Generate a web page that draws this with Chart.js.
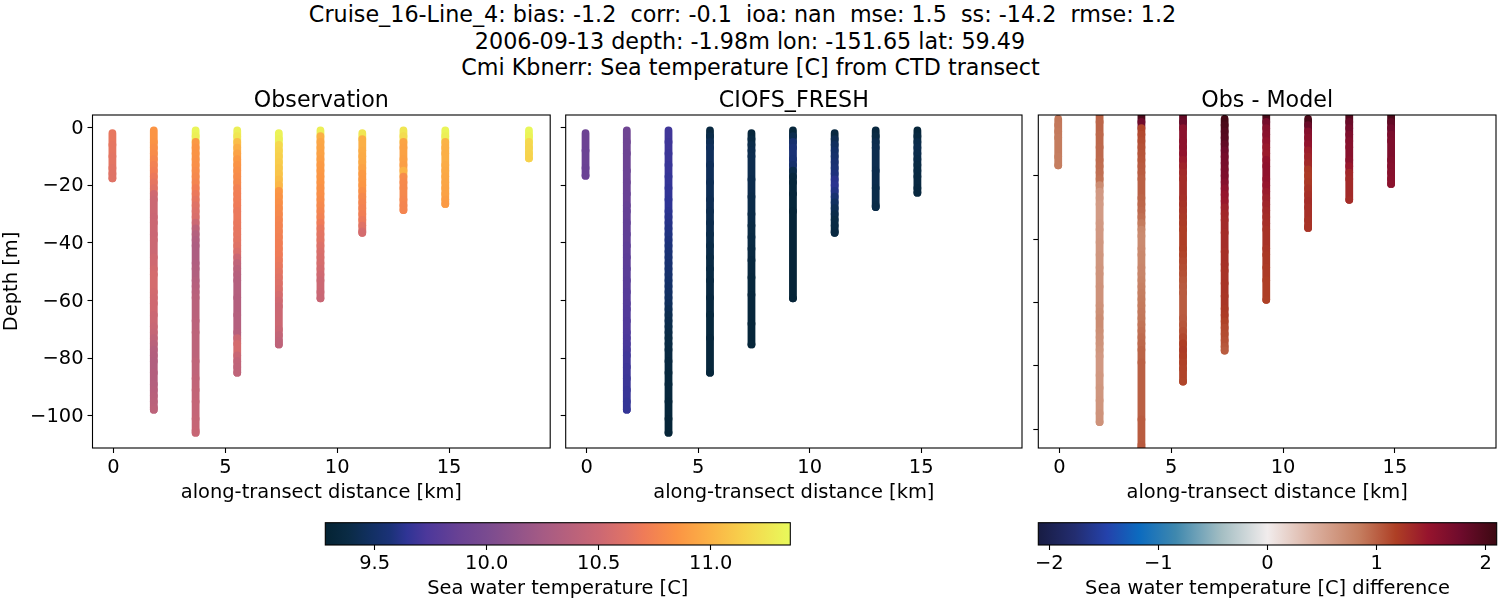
<!DOCTYPE html>
<html>
<head>
<meta charset="utf-8">
<title>Cruise_16-Line_4</title>
<script src="https://cdn.jsdelivr.net/npm/chart.js@4"></script>
<style>
body { margin: 0; background: #fff; width: 1500px; height: 600px; overflow: hidden; position: relative; }
canvas { position: absolute; }
.sup { position: absolute; transform: translateX(-50%); white-space: pre; font: 22.25px "DejaVu Sans"; color: #000; line-height: 26px; }
</style>
</head>
<body>
<div class="sup" style="left:742.5px;top:1px">Cruise_16-Line_4: bias: -1.2  corr: -0.1  ioa: nan  mse: 1.5  ss: -14.2  rmse: 1.2</div>
<div class="sup" style="left:750px;top:28px">2006-09-13 depth: -1.98m lon: -151.65 lat: 59.49</div>
<div class="sup" style="left:750.5px;top:54px">Cmi Kbnerr: Sea temperature [C] from CTD transect</div>
<canvas id="obsChart" width="560" height="422" style="left:0;top:88px"></canvas>
<canvas id="modelChart" width="470" height="422" style="left:556px;top:88px"></canvas>
<canvas id="diffChart" width="472" height="422" style="left:1028px;top:88px"></canvas>
<canvas id="tempBar" width="500" height="91" style="left:300px;top:510px"></canvas>
<canvas id="diffBar" width="490" height="91" style="left:1010px;top:510px"></canvas>
<script>
// distance of each cast along the transect [km]
const castKm = [-0.05, 1.8, 3.67, 5.53, 7.39, 9.25, 11.12, 12.96, 14.83, 18.57];

// sample depths of each cast [m]
const depth1 = [-2,-4,-6,-8,-10,-12,-14,-16,-17.6];
const depth2 = [-1,-3,-5,-7,-9,-11,-13,-15,-17,-19,-21,-23,-25,-27,-29,-31,-33,-35,-37,-39,-41,-43,-45,-47,-49,-51,-53,-55,-57,-59,-61,-63,-65,-67,-69,-71,-73,-75,-77,-79,-81,-83,-85,-87,-89,-91,-93,-95,-97,-97.8];
const depth3 = [-1,-3,-5,-7,-9,-11,-13,-15,-17,-19,-21,-23,-25,-27,-29,-31,-33,-35,-37,-39,-41,-43,-45,-47,-49,-51,-53,-55,-57,-59,-61,-63,-65,-67,-69,-71,-73,-75,-77,-79,-81,-83,-85,-87,-89,-91,-93,-95,-97,-99,-101,-103,-105,-105.8];
const depth4 = [-1,-3,-5,-7,-9,-11,-13,-15,-17,-19,-21,-23,-25,-27,-29,-31,-33,-35,-37,-39,-41,-43,-45,-47,-49,-51,-53,-55,-57,-59,-61,-63,-65,-67,-69,-71,-73,-75,-77,-79,-81,-83,-85];
const depth5 = [-2,-4,-6,-8,-10,-12,-14,-16,-18,-20,-22,-24,-26,-28,-30,-32,-34,-36,-38,-40,-42,-44,-46,-48,-50,-52,-54,-56,-58,-60,-62,-64,-66,-68,-70,-72,-74,-75.2];
const depth6 = [-1,-3,-5,-7,-9,-11,-13,-15,-17,-19,-21,-23,-25,-27,-29,-31,-33,-35,-37,-39,-41,-43,-45,-47,-49,-51,-53,-55,-57,-59.2];
const depth7 = [-2,-4,-6,-8,-10,-12,-14,-16,-18,-20,-22,-24,-26,-28,-30,-32,-34,-36,-36.5];
const depth8 = [-1,-3,-5,-7,-9,-11,-13,-15,-17,-19,-21,-23,-25,-27,-28.6];
const depth9 = [-1,-3,-5,-7,-9,-11,-13,-15,-17,-19,-21,-23,-25,-26.5];
const depth10 = [-1,-3,-5,-7,-9,-10.7];
// the model casts stop a little shallower on three stations
const modelDepth1 = [-2,-4,-6,-8,-10,-12,-14,-16,-16.7];
const modelDepth8 = [-1,-3,-5,-7,-9,-11,-13,-15,-17,-19,-21,-23,-25,-27,-27.6];
const modelDepth9 = [-1,-3,-5,-7,-9,-11,-13,-15,-17,-19,-21,-22.6];

// observed temperature [C]
const obs1 = [10.66,10.66,10.65,10.65,10.64,10.64,10.63,10.62,10.62];
const obs2 = [10.85,10.85,10.84,10.82,10.8,10.77,10.74,10.72,10.68,10.65,
  10.62,10.52,10.5,10.5,10.5,10.49,10.5,10.5,10.49,10.5,
  10.5,10.5,10.52,10.52,10.54,10.55,10.55,10.55,10.54,10.53,
  10.52,10.52,10.5,10.5,10.48,10.46,10.42,10.38,10.35,10.34,
  10.33,10.33,10.34,10.34,10.35,10.36,10.37,10.38,10.39,10.4];
const obs3 = [11.33,11.3,10.87,10.85,10.84,10.83,10.82,10.8,10.78,10.76,
  10.72,10.68,10.65,10.62,10.6,10.58,10.5,10.4,10.35,10.32,
  10.3,10.3,10.3,10.32,10.33,10.33,10.35,10.36,10.37,10.38,
  10.38,10.38,10.38,10.39,10.39,10.4,10.4,10.4,10.4,10.4,
  10.42,10.42,10.42,10.43,10.43,10.44,10.44,10.45,10.45,10.45,
  10.46,10.46,10.47,10.47];
const obs4 = [11.3,11.25,11.05,10.98,10.92,10.87,10.84,10.82,10.8,10.78,
  10.74,10.72,10.71,10.7,10.68,10.68,10.67,10.66,10.65,10.64,
  10.62,10.58,10.5,10.42,10.38,10.36,10.35,10.35,10.35,10.34,
  10.34,10.34,10.35,10.35,10.35,10.36,10.5,10.55,10.55,10.48,
  10.43,10.42,10.42];
const obs5 = [11.32,11.3,11.18,11.16,11.14,11.12,11.1,11.08,11.05,11.02,
  10.86,10.84,10.82,10.8,10.78,10.76,10.75,10.74,10.73,10.72,
  10.71,10.7,10.68,10.66,10.64,10.62,10.6,10.58,10.55,10.52,
  10.5,10.5,10.5,10.5,10.48,10.44,10.42,10.41];
const obs6 = [11.3,10.98,10.94,10.93,10.92,10.9,10.88,10.87,10.86,10.85,
  10.83,10.82,10.8,10.78,10.76,10.74,10.7,10.66,10.64,10.63,
  10.6,10.58,10.57,10.56,10.54,10.52,10.5,10.5,10.49,10.48];
const obs7 = [11.25,10.98,10.98,10.97,10.96,10.95,10.92,10.88,10.87,10.86,
  10.82,10.78,10.76,10.74,10.72,10.68,10.62,10.56,10.55];
const obs8 = [11.25,11.2,10.93,10.92,10.92,10.91,10.9,11.0,10.8,10.79,10.78,10.78,10.77,10.76,10.76];
const obs9 = [11.33,11.3,11.0,10.99,10.98,10.98,10.97,10.96,10.95,10.94,10.93,10.92,10.9,10.88];
const obs10 = [11.34,11.32,11.18,11.17,11.16,11.15];

// CIOFS_FRESH temperature [C]
const model1 = [9.9,9.9,9.9,9.89,9.89,9.89,9.88,9.88,9.88];
const model2 = [9.92,9.92,9.91,9.91,9.9,9.9,9.9,9.89,9.89,9.88,
  9.88,9.87,9.87,9.86,9.85,9.85,9.84,9.84,9.83,9.83,
  9.82,9.82,9.81,9.81,9.8,9.8,9.79,9.79,9.78,9.78,
  9.77,9.76,9.76,9.75,9.75,9.74,9.73,9.72,9.71,9.7,
  9.7,9.69,9.69,9.68,9.68,9.67,9.67,9.66,9.66,9.66];
const model3 = [9.7,9.7,9.69,9.69,9.68,9.68,9.67,9.67,9.66,9.66,
  9.65,9.65,9.64,9.64,9.63,9.62,9.61,9.6,9.59,9.58,
  9.57,9.56,9.55,9.54,9.53,9.52,9.51,9.5,9.49,9.48,
  9.46,9.44,9.42,9.41,9.4,9.39,9.38,9.37,9.36,9.36,
  9.35,9.35,9.34,9.34,9.33,9.33,9.33,9.32,9.32,9.32,
  9.31,9.31,9.31,9.31];
const model4 = [9.36,9.4,9.44,9.46,9.46,9.46,9.45,9.45,9.45,9.44,
  9.44,9.44,9.43,9.43,9.42,9.42,9.41,9.41,9.4,9.4,
  9.39,9.39,9.38,9.38,9.37,9.37,9.36,9.36,9.36,9.35,
  9.35,9.35,9.34,9.34,9.34,9.34,9.33,9.33,9.33,9.33,
  9.33,9.33,9.32];
const model5 = [9.33,9.37,9.4,9.41,9.42,9.42,9.42,9.42,9.41,9.41,
  9.41,9.4,9.4,9.4,9.39,9.39,9.38,9.38,9.37,9.37,
  9.36,9.36,9.35,9.35,9.35,9.34,9.34,9.34,9.33,9.33,
  9.33,9.33,9.33,9.32,9.32,9.32,9.32,9.32];
const model6 = [9.33,9.42,9.53,9.56,9.56,9.55,9.52,9.4,9.35,9.33,
  9.33,9.32,9.32,9.32,9.31,9.31,9.31,9.31,9.31,9.31,
  9.31,9.31,9.31,9.31,9.31,9.31,9.31,9.31,9.31,9.31];
const model7 = [9.36,9.43,9.47,9.5,9.52,9.54,9.56,9.58,9.62,9.63,
  9.6,9.54,9.48,9.44,9.4,9.38,9.37,9.36,9.36];
const model8 = [9.35,9.38,9.41,9.42,9.42,9.42,9.42,9.41,9.41,9.41,9.4,9.4,9.4,9.39,9.39];
const model9 = [9.33,9.36,9.4,9.41,9.4,9.39,9.38,9.37,9.36,9.36,9.35,9.35];

// obs - model difference [C]
const diff1 = [0.88,0.87,0.86,0.85,0.85,0.85,0.84,0.84,0.84];
const diff2 = [0.98,0.97,0.97,0.96,0.96,0.95,0.95,0.94,0.93,0.92,
  0.9,0.72,0.62,0.61,0.6,0.6,0.6,0.61,0.62,0.62,
  0.63,0.63,0.64,0.64,0.65,0.66,0.66,0.67,0.67,0.67,
  0.68,0.7,0.72,0.72,0.7,0.68,0.66,0.64,0.62,0.62,
  0.62,0.63,0.63,0.64,0.64,0.65,0.65,0.66,0.66,0.67];
const diff3 = [2.0,1.75,1.15,1.12,1.1,1.08,1.06,1.05,1.03,1.02,
  1.0,1.0,1.0,0.98,0.97,0.95,0.92,0.85,0.76,0.74,
  0.74,0.75,0.76,0.76,0.77,0.78,0.8,0.82,0.84,0.85,
  0.86,0.87,0.88,0.9,0.92,0.94,0.96,0.98,0.98,1.0,
  1.0,1.0,1.0,1.0,1.0,1.0,1.0,1.0,1.02,1.02,
  1.02,1.02,1.03,1.03];
const diff4 = [1.85,1.8,1.55,1.55,1.54,1.53,1.5,1.42,1.36,1.32,
  1.3,1.3,1.3,1.28,1.26,1.24,1.22,1.2,1.18,1.18,
  1.18,1.17,1.15,1.12,1.1,1.08,1.05,1.03,1.02,1.02,
  1.02,1.02,1.03,1.05,1.08,1.12,1.18,1.2,1.18,1.16,
  1.15,1.15,1.14];
const diff5 = [2.05,2.0,1.95,1.92,1.85,1.78,1.72,1.7,1.68,1.66,
  1.6,1.52,1.48,1.45,1.38,1.34,1.32,1.32,1.3,1.3,
  1.3,1.28,1.28,1.27,1.26,1.26,1.25,1.25,1.24,1.24,
  1.22,1.2,1.16,1.12,1.1,1.08,1.05,1.02];
const diff6 = [2.0,1.7,1.58,1.56,1.5,1.44,1.42,1.5,1.52,1.52,
  1.5,1.46,1.42,1.38,1.35,1.32,1.3,1.28,1.26,1.26,
  1.26,1.24,1.22,1.22,1.2,1.2,1.18,1.18,1.18,1.17];
const diff7 = [2.0,1.8,1.6,1.55,1.5,1.4,1.36,1.32,1.22,1.2,
  1.22,1.25,1.28,1.3,1.28,1.28,1.26,1.25,1.25];
const diff8 = [1.95,1.8,1.72,1.65,1.6,1.58,1.58,1.55,1.45,1.34,1.32,1.32,1.32,1.32,1.3];
const diff9 = [2.0,1.85,1.75,1.68,1.65,1.65,1.65,1.62,1.6,1.58,1.56,1.55];

// axis ticks
const kmTicks = [0, 5, 10, 15];
const kmLabels = ['0', '5', '10', '15'];
const depthTicks = [-100, -80, -60, -40, -20, 0];
const depthLabels = ['\u2212100', '\u221280', '\u221260', '\u221240', '\u221220', '0'];
const tempTicks = [9.5, 10, 10.5, 11];
const tempLabels = ['9.5', '10.0', '10.5', '11.0'];
const diffTicks = [-2, -1, 0, 1, 2];
const diffLabels = ['\u22122', '\u22121', '0', '1', '2'];

// colormaps
const thermalStops = [[0,'#042333'],[0.05,'#0a2b45'],[0.1,'#123063'],[0.14,'#1b3278'],[0.175,'#2f3495'],[0.218,'#4c389b'],[0.29,'#6a4294'],[0.348,'#7a4b90'],[0.47,'#a65b84'],[0.59,'#cc6873'],[0.648,'#e07366'],[0.684,'#ef7b58'],[0.756,'#fb9444'],[0.83,'#fbb346'],[0.9,'#f7d24c'],[1,'#e8fa5b']];
const balanceStops = [[0,'#181c43'],[0.08,'#232d70'],[0.15,'#2442ab'],[0.22,'#0c6bbf'],[0.3,'#3f88ae'],[0.4,'#a4bec3'],[0.5,'#f1ecec'],[0.6,'#dbb0a0'],[0.7,'#c57e60'],[0.78,'#ae3f25'],[0.85,'#96142d'],[0.92,'#6f0b2c'],[1,'#3c0912']];
const tempRange = [9.28, 11.355];
const diffRange = [-2.1, 2.1];

function hexToRgb(h) {
    return [1, 3, 5].map(i => parseInt(h.substr(i, 2), 16));
}

function colorAt(stops, range, v) {
    const t = Math.min(1, Math.max(0, (v - range[0]) / (range[1] - range[0])));
    let i = 0;
    while (i < stops.length - 2 && t > stops[i + 1][0]) i++;
    const f = (t - stops[i][0]) / (stops[i + 1][0] - stops[i][0]);
    const a = hexToRgb(stops[i][1]), b = hexToRgb(stops[i + 1][1]);
    return 'rgb(' + a.map((c, k) => Math.round(c + (b[k] - c) * f)).join(',') + ')';
}

// matplotlib style closed box around the axes
const framePlugin = {
    id: 'frame',
    afterDraw(chart) {
        const a = chart.chartArea, c = chart.ctx;
        c.save();
        c.strokeStyle = '#000';
        c.lineWidth = 1.1;
        c.strokeRect(a.left, a.top, a.right - a.left, a.bottom - a.top);
        c.restore();
    }
};

const FONT = 'DejaVu Sans';
const TICK_SIZE = 19.44;

function castDataset(depths, values, km, stops, range) {
    const colors = values.map(v => colorAt(stops, range, v));
    return {
        data: depths.map(d => ({ x: km, y: d })),
        showLine: true,
        borderWidth: 7.8,
        // round caps overlap downwards like the stacked scatter dots
        borderCapStyle: 'round',
        segment: { borderColor: c => colors[c.p0DataIndex] },
        pointRadius: depths.map((d, i) => (i === depths.length - 1 ? 3.9 : 0)),
        pointBorderWidth: 0,
        pointBackgroundColor: colors,
        clip: 0
    };
}

function createPanel(id, title, casts, stops, range, o) {
    const datasets = casts.map((c, i) => castDataset(c[0], c[1], castKm[i], stops, range));
    return new Chart(document.getElementById(id), {
        type: 'scatter',
        data: { datasets: datasets },
        plugins: [framePlugin],
        options: {
            responsive: false,
            animation: false,
            devicePixelRatio: 1,
            events: [],
            layout: { padding: { left: 0, right: o.padRight, top: 0, bottom: 0 } },
            plugins: {
                legend: { display: false },
                tooltip: { enabled: false },
                title: {
                    display: true, text: title, color: '#000', fullSize: false,
                    font: { family: FONT, size: 22.2, weight: 'normal', lineHeight: '22px' },
                    padding: { top: 2, bottom: 3 }
                }
            },
            scales: {
                x: {
                    type: 'linear', min: -0.94, max: 19.52,
                    grid: { drawOnChartArea: false, tickLength: 5, tickColor: '#000', tickWidth: 1.1 },
                    border: { display: false },
                    afterBuildTicks: a => { a.ticks = kmTicks.map(v => ({ value: v })); },
                    afterFit: a => { a.height = 422 - 360; },
                    ticks: { color: '#000', font: { family: FONT, size: TICK_SIZE }, padding: 3, maxRotation: 0, autoSkip: false,
                        callback: (v, i) => kmLabels[i] },
                    title: { display: true, text: 'along-transect distance [km]', color: '#000',
                        font: { family: FONT, size: TICK_SIZE }, padding: { top: 3, bottom: 5.3 } }
                },
                y: {
                    type: 'linear', min: o.yMin, max: o.yMax,
                    grid: { drawOnChartArea: false, tickLength: 5, tickColor: '#000', tickWidth: 1.1 },
                    border: { display: false },
                    afterBuildTicks: a => { a.ticks = o.yTicks.map(v => ({ value: v })); },
                    afterFit: a => { a.width = o.axisWidth; },
                    ticks: { display: o.showY, color: '#000', font: { family: FONT, size: TICK_SIZE }, padding: 4, autoSkip: false, labelOffset: 1,
                        callback: (v, i) => depthLabels[i] },
                    title: { display: o.showY, text: 'Depth [m]', color: '#000',
                        font: { family: FONT, size: TICK_SIZE }, padding: { top: 0, bottom: 0 } }
                }
            }
        }
    });
}

function createColorbar(id, stops, range, ticks, labels, title, padLeft, padRight) {
    return new Chart(document.getElementById(id), {
        type: 'bar',
        data: {
            labels: [''],
            datasets: [{
                data: [range],
                barPercentage: 1,
                categoryPercentage: 1,
                borderWidth: 0,
                backgroundColor: c => {
                    const a = c.chart.chartArea;
                    if (!a) return '#888';
                    const g = c.chart.ctx.createLinearGradient(a.left, 0, a.right, 0);
                    stops.forEach(s => g.addColorStop(s[0], s[1]));
                    return g;
                }
            }]
        },
        plugins: [framePlugin],
        options: {
            indexAxis: 'y',
            responsive: false,
            animation: false,
            devicePixelRatio: 1,
            events: [],
            layout: { padding: { left: padLeft, right: padRight, top: 12.7, bottom: 0 } },
            plugins: { legend: { display: false }, tooltip: { enabled: false } },
            scales: {
                y: { display: false },
                x: {
                    type: 'linear', min: range[0], max: range[1],
                    grid: { drawOnChartArea: false, tickLength: 5, tickColor: '#000', tickWidth: 1.1 },
                    border: { display: false },
                    afterBuildTicks: a => { a.ticks = ticks.map(v => ({ value: v })); },
                    afterFit: a => { a.height = 56; },
                    ticks: { color: '#000', font: { family: FONT, size: TICK_SIZE }, padding: 2, maxRotation: 0, autoSkip: false,
                        callback: (v, i) => labels[i] },
                    title: { display: true, text: title, color: '#000',
                        font: { family: FONT, size: TICK_SIZE }, padding: { top: 2, bottom: 0 } }
                }
            }
        }
    });
}

createPanel('obsChart', 'Observation',
    [[depth1,obs1],[depth2,obs2],[depth3,obs3],[depth4,obs4],[depth5,obs5],[depth6,obs6],[depth7,obs7],[depth8,obs8],[depth9,obs9],[depth10,obs10]],
    thermalStops, tempRange,
    { yMin: -111.1, yMax: 4.33, yTicks: depthTicks, showY: true, axisWidth: 92.5, padRight: 9.8 });

createPanel('modelChart', 'CIOFS_FRESH',
    [[modelDepth1,model1],[depth2,model2],[depth3,model3],[depth4,model4],[depth5,model5],[depth6,model6],[depth7,model7],[modelDepth8,model8],[modelDepth9,model9]],
    thermalStops, tempRange,
    { yMin: -111.1, yMax: 4.33, yTicks: depthTicks, showY: false, axisWidth: 9.7, padRight: 2.7 });

createPanel('diffChart', 'Obs - Model',
    [[modelDepth1,diff1],[depth2,diff2],[depth3,diff3],[depth4,diff4],[depth5,diff5],[depth6,diff6],[depth7,diff7],[modelDepth8,diff8],[modelDepth9,diff9]],
    balanceStops, diffRange,
    { yMin: -106, yMax: -0.82, yTicks: [-100, -80, -60, -40, -20], showY: false, axisWidth: 10.3, padRight: 4 });

createColorbar('tempBar', thermalStops, tempRange, tempTicks, tempLabels, 'Sea water temperature [C]', 25.3, 9.7);
createColorbar('diffBar', balanceStops, diffRange, diffTicks, diffLabels, 'Sea water temperature [C] difference', 28.3, 3.3);
</script>
</body>
</html>
